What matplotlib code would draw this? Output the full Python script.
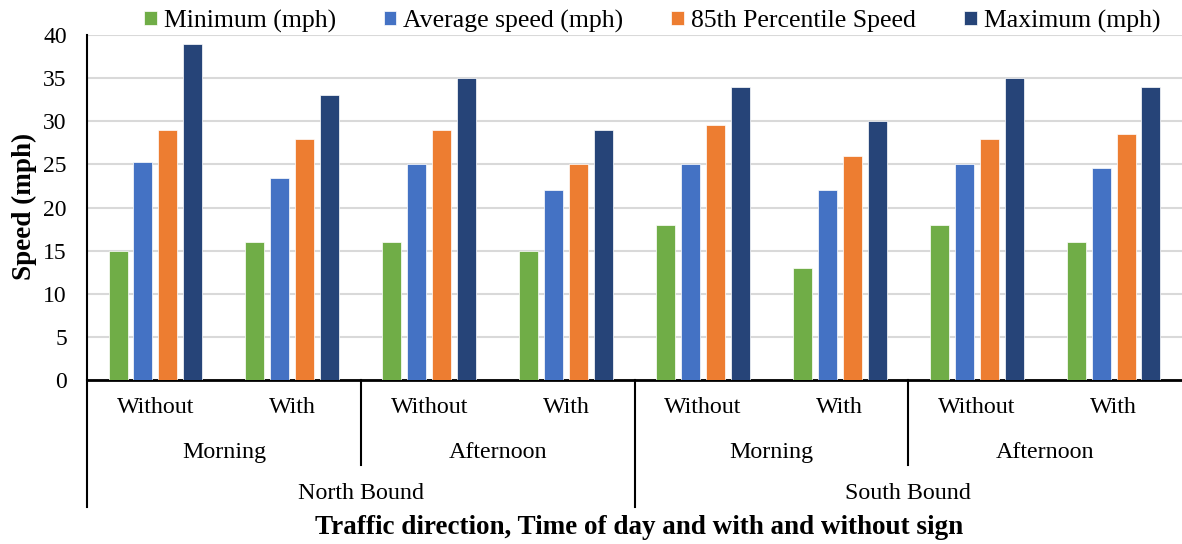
import numpy as np
import matplotlib.pyplot as plt
import matplotlib.transforms as mtransforms

plt.rcParams['font.family'] = ['Liberation Serif', 'DejaVu Serif']

# Data
sign_labels = ['Without', 'With'] * 4
time_labels = ['Morning', 'Afternoon', 'Morning', 'Afternoon']
direction_labels = ['North Bound', 'South Bound']

series_names = ['Minimum (mph)', 'Average speed (mph)', '85th Percentile Speed', 'Maximum (mph)']
minimum = [15, 16, 16, 15, 18, 13, 18, 16]
average = [25.3, 23.4, 25.0, 22.0, 25.1, 22.0, 25.1, 24.6]
pct85 = [29, 28, 29, 25, 29.6, 26, 28, 28.5]
maximum = [39, 33, 35, 29, 34, 30, 35, 34]
colors = ['#70AD47', '#4472C4', '#ED7D31', '#264478']

fig = plt.figure(figsize=(11.82, 5.44), dpi=100)
ax = fig.add_axes([87/1182, 1-380/544, 1-87/1182, 345/544])

x = np.arange(len(sign_labels)) + 0.5
w = 0.139
step = 0.182
for k, (vals, name) in enumerate(zip([minimum, average, pct85, maximum], series_names)):
    ax.bar(x + (k - 1.5)*step, vals, width=w, color=colors[k], label=name,
           edgecolor='white', linewidth=0.5, zorder=3)

ax.set_xlim(0, 8)
ax.set_ylim(0, 40)
ax.set_yticks(range(0, 41, 5))
ax.tick_params(axis='y', length=0, labelsize=17, pad=14.5)
ax.set_xticks([])
ax.grid(axis='y', color='#d9d9d9', linewidth=1.5, zorder=0)
for s in ['top', 'right']:
    ax.spines[s].set_visible(False)
ax.spines['left'].set_linewidth(1.5)
ax.spines['bottom'].set_linewidth(2)
ax.set_ylabel('Speed (mph)', fontsize=19.5, fontweight='bold')
ax.yaxis.set_label_coords(-0.0456, 0.504)

# multi-level category axis
trans = mtransforms.blended_transform_factory(ax.transData, ax.transAxes)
for i, lab in enumerate(sign_labels):
    ax.text(i + 0.5, -0.081, lab, transform=trans, ha='center', va='center', fontsize=17.3)
for i, lab in enumerate(time_labels):
    ax.text(2*i + 1, -0.209, lab, transform=trans, ha='center', va='center', fontsize=17.3)
for i, lab in enumerate(direction_labels):
    ax.text(4*i + 2, -0.328, lab, transform=trans, ha='center', va='center', fontsize=17.3)
for xs in [2, 6]:
    ax.plot([xs, xs], [0, -0.246], transform=trans, color='black', lw=1.5, clip_on=False)
for xs in [0, 4]:
    ax.plot([xs, xs], [0, -0.368], transform=trans, color='black', lw=1.5, clip_on=False)

fig.text(639/1182, 1-527/544, 'Traffic direction, Time of day and with and without sign',
         ha='center', va='center', fontsize=19.5, fontweight='bold')

fig.legend(loc='center', bbox_to_anchor=(652/1182, 1-21/544), ncol=4, frameon=False,
           fontsize=18.5, handlelength=0.5, handleheight=0.5, handletextpad=0.27,
           columnspacing=1.86, borderpad=0)

fig.savefig('out.png', dpi=100)
